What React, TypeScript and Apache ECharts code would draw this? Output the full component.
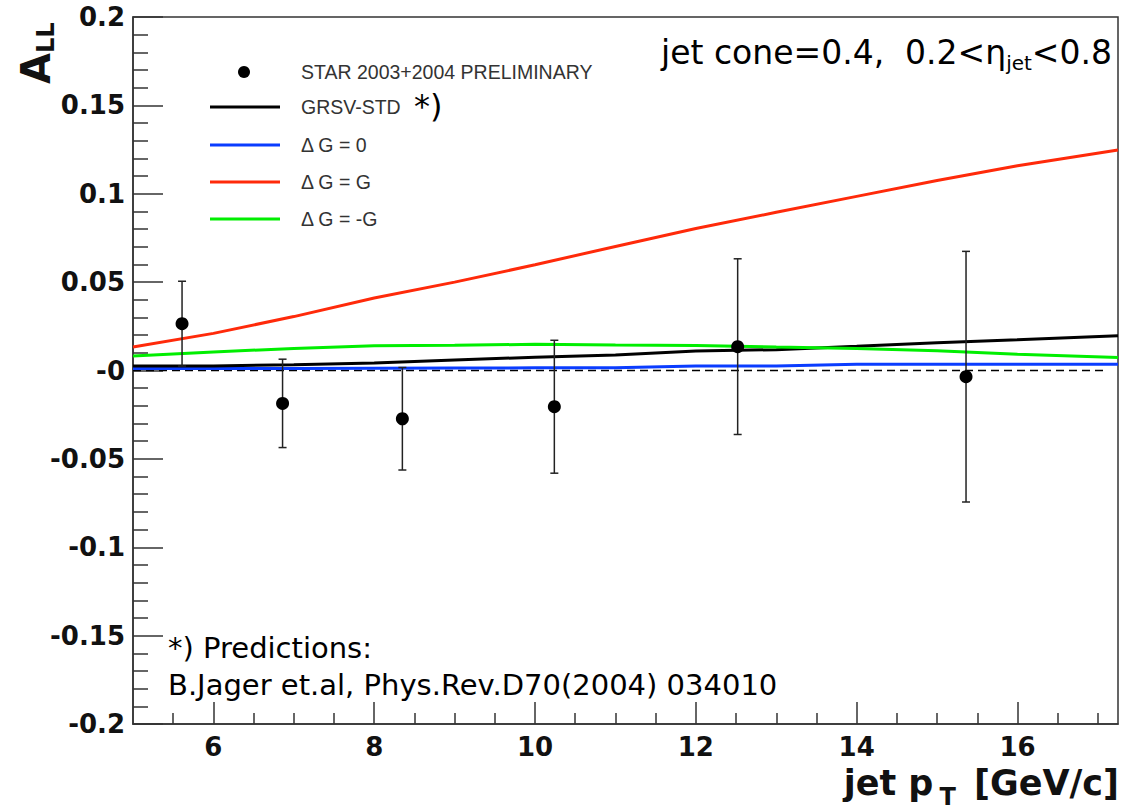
import React, { useEffect, useRef } from "react";
import * as echarts from "echarts";

// ---- data ----
const ptGrid = [5, 6, 7, 8, 9, 10, 11, 12, 13, 14, 15, 16, 17.25];
const grsvStd = [0.0025, 0.0025, 0.0033, 0.0042, 0.006, 0.0075, 0.0088, 0.011, 0.0118, 0.0137, 0.0157, 0.0174, 0.0196];
const dgZero = [0.0012, 0.0012, 0.0012, 0.0013, 0.0014, 0.0015, 0.0016, 0.0025, 0.0025, 0.0035, 0.0035, 0.0035, 0.0035];
const dgG = [0.0133, 0.021, 0.0305, 0.041, 0.05, 0.0598, 0.0702, 0.0803, 0.0895, 0.0985, 0.1075, 0.1158, 0.1247];
const dgMinusG = [0.0082, 0.0105, 0.0125, 0.014, 0.0143, 0.0148, 0.0144, 0.0142, 0.0133, 0.0125, 0.0112, 0.0092, 0.0073];

const starPt = [5.61, 6.86, 8.35, 10.24, 12.52, 15.36];
const starALL = [0.0265, -0.0186, -0.0273, -0.0205, 0.0135, -0.0035];
const starErr = [0.024, 0.025, 0.029, 0.0376, 0.0497, 0.0709];

const zeroLineX = [5, 17.1];

const xMajorTicks = [6, 8, 10, 12, 14, 16];
const xMinorTicks = [5.5, 6.5, 7, 7.5, 8.5, 9, 9.5, 10.5, 11, 11.5, 12.5, 13, 13.5, 14.5, 15, 15.5, 16.5, 17];

const legendNames = ["STAR 2003+2004 PRELIMINARY", "GRSV-STD", "\u0394 G = 0", "\u0394 G = G", "\u0394 G = -G"];

const X_MIN = 5;
const X_MAX = 17.25;

const BOLD = "'DejaVu Sans', sans-serif";
const TAHOMA = "'DejaVu Sans', sans-serif";
const ARIAL = "'Liberation Sans', Arial, sans-serif";

const C_RED = "#ff2a0a";
const C_GREEN = "#00ee00";
const C_BLUE = "#0a3cff";
const C_BLACK = "#000000";

export default function App() {
  const ref = useRef<HTMLDivElement>(null);

  useEffect(() => {
    if (!ref.current) return;
    const chart = echarts.init(ref.current, undefined, { renderer: "svg" });

    const toPairs = (ys: number[]) => ptGrid.map((x, i) => [x, ys[i]]);

    const legendRowsY = [72, 107, 145, 182, 219];
    const legendColors = [C_BLACK, C_BLACK, C_BLUE, C_RED, C_GREEN];

    const legendGraphics: any[] = [];
    legendNames.forEach((name, i) => {
      if (i === 0) {
        legendGraphics.push({
          type: "circle",
          shape: { cx: 244, cy: legendRowsY[i], r: 6 },
          style: { fill: C_BLACK },
        });
      } else {
        legendGraphics.push({
          type: "line",
          shape: { x1: 210, y1: legendRowsY[i], x2: 280, y2: legendRowsY[i] },
          style: { stroke: legendColors[i], lineWidth: 3 },
        });
      }
      legendGraphics.push({
        type: "text",
        x: 301,
        y: legendRowsY[i],
        style: {
          text: name,
          font: `19.5px ${ARIAL}`,
          fill: "#333",
          verticalAlign: "middle",
          align: "left",
        },
      });
    });

    const option: any = {
      animation: false,
      backgroundColor: "#fff",
      grid: {
        left: 133,
        right: 4,
        top: 17,
        bottom: 86,
        show: true,
        borderColor: "#333",
        borderWidth: 1.5,
        backgroundColor: "transparent",
      },
      xAxis: [
        {
          type: "value",
          min: X_MIN,
          max: X_MAX,
          position: "bottom",
          axisLine: { show: true, onZero: false, lineStyle: { color: "#333", width: 1.5 } },
          axisTick: {
            show: true,
            inside: true,
            length: 22,
            customValues: xMajorTicks,
            lineStyle: { color: "#333", width: 1.5 },
          },
          axisLabel: {
            show: true,
            customValues: xMajorTicks,
            fontFamily: BOLD,
            fontWeight: "bold",
            fontSize: 26,
            color: "#111",
            margin: 10,
          },
          splitLine: { show: false },
        },
        {
          type: "value",
          min: X_MIN,
          max: X_MAX,
          position: "bottom",
          axisLine: { show: false, onZero: false },
          axisTick: {
            show: true,
            inside: true,
            length: 11,
            customValues: xMinorTicks,
            lineStyle: { color: "#333", width: 1.5 },
          },
          axisLabel: { show: false },
          splitLine: { show: false },
        },
      ],
      yAxis: {
        type: "value",
        min: -0.2,
        max: 0.2,
        interval: 0.05,
        axisLine: { show: true, onZero: false, lineStyle: { color: "#333", width: 1.5 } },
        axisTick: { show: true, inside: true, length: 30, lineStyle: { color: "#333", width: 1.5 } },
        minorTick: { show: true, splitNumber: 5, length: 15, lineStyle: { color: "#333", width: 1.5 } },
        axisLabel: {
          fontFamily: BOLD,
          fontWeight: "bold",
          fontSize: 26,
          color: "#111",
          margin: 8,
          padding: [12, 0, 0, 0],
          formatter: (v: number) => (Math.abs(v) < 1e-9 ? "-0" : String(Number(v.toFixed(2)))),
        },
        splitLine: { show: false },
        minorSplitLine: { show: false },
      },
      series: [
        {
          name: "zero",
          type: "line",
          data: zeroLineX.map((x) => [x, 0]),
          showSymbol: false,
          lineStyle: { color: "#000", width: 1.5, type: [8, 5] },
          silent: true,
          z: 1,
        },
        {
          name: legendNames[2],
          type: "line",
          data: toPairs(dgZero),
          showSymbol: false,
          lineStyle: { color: C_BLUE, width: 3 },
          z: 2,
        },
        {
          name: legendNames[1],
          type: "line",
          data: toPairs(grsvStd),
          showSymbol: false,
          lineStyle: { color: C_BLACK, width: 3 },
          z: 3,
        },
        {
          name: legendNames[4],
          type: "line",
          data: toPairs(dgMinusG),
          showSymbol: false,
          lineStyle: { color: C_GREEN, width: 3 },
          z: 4,
        },
        {
          name: legendNames[3],
          type: "line",
          data: toPairs(dgG),
          showSymbol: false,
          lineStyle: { color: C_RED, width: 3 },
          z: 5,
        },
        {
          name: "errors",
          type: "custom",
          data: starPt.map((x, i) => [x, starALL[i], starErr[i]]),
          renderItem: (params: any, api: any) => {
            const x = api.value(0);
            const y = api.value(1);
            const e = api.value(2);
            const top = api.coord([x, y + e]);
            const bot = api.coord([x, y - e]);
            const cap = 4;
            const st = { stroke: "#222", lineWidth: 1.5 };
            return {
              type: "group",
              children: [
                { type: "line", shape: { x1: top[0], y1: top[1], x2: bot[0], y2: bot[1] }, style: st },
                { type: "line", shape: { x1: top[0] - cap, y1: top[1], x2: top[0] + cap, y2: top[1] }, style: st },
                { type: "line", shape: { x1: bot[0] - cap, y1: bot[1], x2: bot[0] + cap, y2: bot[1] }, style: st },
              ],
            };
          },
          z: 6,
        },
        {
          name: legendNames[0],
          type: "scatter",
          data: starPt.map((x, i) => [x, starALL[i]]),
          symbol: "circle",
          symbolSize: 13,
          itemStyle: { color: C_BLACK, opacity: 1 },
          z: 7,
        },
      ],
      graphic: [
        ...legendGraphics,
        {
          type: "text",
          x: 414,
          y: 106,
          style: { text: "*)", font: `32px ${TAHOMA}`, fill: "#000", verticalAlign: "middle" },
        },
        {
          type: "text",
          x: 1112,
          y: 52,
          style: {
            text: "{m|jet cone=0.4,  0.2<\u03b7}{s|jet}{m|<0.8}",
            align: "right",
            verticalAlign: "middle",
            rich: {
              m: { fontFamily: TAHOMA, fontSize: 33, lineHeight: 42, fill: "#000" },
              s: { fontFamily: TAHOMA, fontSize: 20, lineHeight: 14, verticalAlign: "bottom", fill: "#000" },
            },
          },
        },
        {
          type: "text",
          x: 168,
          y: 648,
          style: { text: "*) Predictions:", font: `29px ${TAHOMA}`, fill: "#000", verticalAlign: "middle" },
        },
        {
          type: "text",
          x: 168,
          y: 685,
          style: {
            text: "B.Jager et.al, Phys.Rev.D70(2004) 034010",
            font: `29px ${TAHOMA}`,
            fill: "#000",
            verticalAlign: "middle",
          },
        },
        {
          type: "text",
          x: 1119,
          y: 783,
          style: {
            text: "{m|jet p}{s|T}{m| [GeV/c]}",
            align: "right",
            verticalAlign: "middle",
            rich: {
              m: { fontFamily: BOLD, fontWeight: "bold", fontSize: 35, lineHeight: 34, fill: "#111" },
              s: { fontFamily: BOLD, fontWeight: "bold", fontSize: 24, lineHeight: 6, height: 6, verticalAlign: "bottom", fill: "#111", padding: [0, 6, 0, 6] },
            },
          },
        },
        {
          type: "text",
          x: 36,
          y: 84,
          rotation: Math.PI / 2,
          style: {
            text: "{m|A}{s|LL}",
            align: "left",
            verticalAlign: "middle",
            rich: {
              m: { fontFamily: BOLD, fontWeight: "bold", fontSize: 40, lineHeight: 44, fill: "#111" },
              s: { fontFamily: BOLD, fontWeight: "bold", fontSize: 24, lineHeight: 16, verticalAlign: "bottom", fill: "#111" },
            },
          },
        },
      ],
    };

    chart.setOption(option);
    return () => chart.dispose();
  }, []);

  return (
    <div
      ref={ref}
      style={{ position: "absolute", left: 0, top: 0, width: 1122, height: 810, background: "#fff" }}
    />
  );
}
